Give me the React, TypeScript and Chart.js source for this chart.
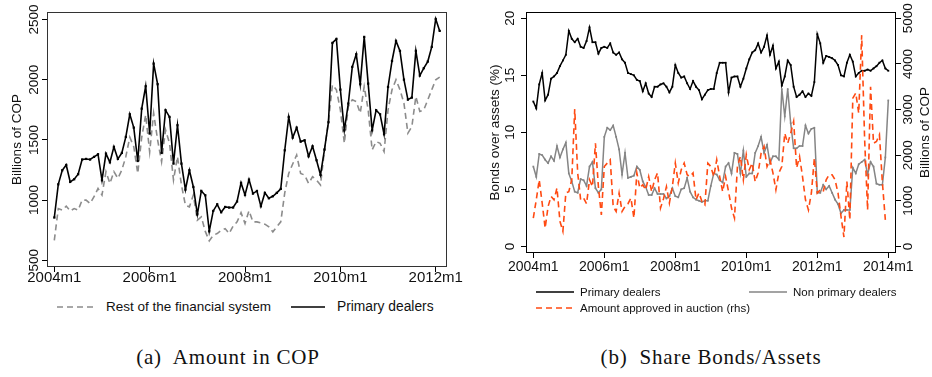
import React, { useEffect, useRef } from 'react';
import { Chart, registerables } from 'chart.js';

Chart.register(...registerables);

// ---------- Panel (a): Amount in COP, monthly 2004m1..2012m2 ----------
const LEFT_PRIMARY = [
  855, 1131, 1248, 1292, 1151, 1173, 1215, 1337, 1342, 1337,
  1359, 1381, 1165, 1386, 1314, 1442, 1342, 1392, 1525, 1713,
  1602, 1325, 1760, 1946, 1553, 2134, 1963, 1392, 1747, 1691,
  1303, 1622, 1303, 1087, 1248, 1109, 882, 1076, 1040, 741,
  910, 965, 899, 943, 938, 938, 988, 1143, 1043, 1170,
  1054, 1076, 949, 1060, 1015, 1032, 1060, 1093, 1414, 1691,
  1519, 1602, 1486, 1497, 1364, 1447, 1331, 1209, 1420, 1647,
  2306, 2339, 1918, 1580, 1802, 2107, 2212, 1963, 2356, 1968,
  1580, 1747, 1713, 1547, 1940, 2156, 2323, 2240, 2001, 1835,
  1852, 2240, 2035, 2096, 2151, 2273, 2505, 2406,
];
const LEFT_REST = [
  666, 930, 917, 950, 910, 930, 917, 1000, 1000, 972,
  1028, 1097, 1042, 1236, 1139, 1236, 1181, 1250, 1361, 1522,
  1444, 1222, 1522, 1708, 1400, 1722, 1500, 1319, 1583, 1472,
  1167, 1361, 1125, 958, 944, 1042, 833, 861, 740, 661,
  708, 722, 749, 763, 722, 783, 819, 895, 806, 911,
  819, 819, 811, 800, 778, 736, 778, 819, 1060, 1222,
  1300, 1375, 1222, 1208, 1139, 1194, 1167, 1125, 1417, 1653,
  1958, 1917, 1750, 1472, 1778, 1833, 1819, 1722, 1944, 1750,
  1417, 1486, 1472, 1403, 1750, 1917, 2000, 1917, 1806, 1556,
  1611, 1861, 1736, 1750, 1833, 1917, 2000, 2022,
];
const LEFT_X_TICKS = [0, 24, 48, 72, 96];
const LEFT_X_LABELS = ['2004m1', '2006m1', '2008m1', '2010m1', '2012m1'];
const LEFT_Y_TICKS = [500, 1000, 1500, 2000, 2500];

// ---------- Panel (b): Share Bonds/Assets, monthly 2004m1..2014m1 ----------
const RIGHT_PRIMARY = [
  12.7, 12.1, 14.2, 15.2, 12.8, 13.3, 14.7, 14.9, 15.2, 15.8,
  16.3, 16.8, 18.9, 18.2, 17.9, 18.2, 17.5, 17.4, 18.0, 19.2,
  17.9, 17.9, 16.9, 17.4, 17.5, 17.4, 17.8, 17.0, 16.8, 17.0,
  16.4, 16.1, 15.2, 15.1, 15.0, 14.6, 14.5, 13.6, 14.3, 13.4,
  13.1, 14.0, 14.0, 14.2, 14.3, 14.0, 13.5, 14.0, 15.9, 15.2,
  14.8, 14.9, 14.3, 13.8, 14.5, 14.0, 13.7, 12.9, 13.3, 13.7,
  13.8, 13.8, 15.2, 16.1, 16.1, 16.1, 13.5, 14.8, 14.9, 14.9,
  14.0, 14.7, 15.6, 16.4, 17.0, 17.2, 17.8, 17.0, 17.5, 18.5,
  16.8, 17.6, 15.6, 16.2, 14.1, 14.9, 16.3, 15.9, 14.0, 13.1,
  13.3, 13.6, 13.1, 13.4, 13.2, 14.4, 18.6, 17.8, 16.1, 16.7,
  16.6, 16.5, 16.3, 15.9, 15.0, 14.9, 16.1, 16.8, 16.2, 14.9,
  15.2, 15.4, 15.4, 15.5, 15.4, 15.6, 15.8, 16.1, 16.3, 15.6,
  15.4,
];
const RIGHT_NONPRIMARY = [
  7.0, 6.1, 8.1, 8.0, 7.6, 7.3, 7.9, 7.5, 8.8, 7.8,
  8.5, 9.1, 6.4, 5.7, 4.8, 4.7, 5.9, 5.8, 5.3, 7.0,
  7.4, 5.1, 4.7, 5.0, 9.6, 10.4, 10.2, 10.6, 9.6, 8.5,
  6.3, 8.2, 6.0, 6.1, 6.2, 7.0, 6.7, 5.7, 5.2, 4.5,
  4.5, 5.1, 4.6, 4.6, 4.6, 4.2, 4.4, 5.1, 4.4, 4.3,
  5.0, 5.1, 6.0, 4.8, 4.3, 4.1, 4.0, 3.9, 4.0, 4.0,
  5.3, 6.4, 6.3, 5.8, 5.6, 7.0, 7.3, 6.4, 8.2, 8.1,
  6.4, 8.4, 6.1, 6.4, 6.4, 8.2, 8.8, 9.6, 8.2, 8.9,
  7.3, 7.9, 7.9, 7.6, 13.8, 11.4, 13.8, 10.8, 8.6, 8.6,
  8.8, 8.8, 10.6, 9.9, 10.3, 10.4, 4.7, 4.7, 5.4, 5.0,
  5.3, 4.7, 4.1, 3.7, 2.9, 3.2, 3.2, 3.2, 6.9, 6.4,
  7.2, 7.4, 7.6, 6.3, 7.4, 7.0, 5.5, 5.4, 5.4, 7.8,
  12.8,
];
const RIGHT_AUCTION = [
  620, 1020, 1460, 950, 400, 875, 1095, 1020, 1280, 550,
  330, 1170, 1200, 1460, 3010, 1610, 1020, 1060, 935, 1460,
  1310, 2260, 1310, 690, 1750, 1825, 1900, 875, 765, 1170,
  765, 875, 935, 1060, 620, 1610, 1280, 1350, 1240, 1530,
  1200, 1460, 1610, 840, 1040, 1310, 950, 1310, 1825, 1390,
  1680, 1825, 1570, 1530, 1610, 1020, 1170, 985, 910, 1825,
  1750, 1530, 1900, 1530, 1200, 1530, 1200, 840, 620, 1750,
  1970, 1460, 2010, 1680, 1825, 1420, 1610, 2040, 2190, 1750,
  1900, 1610, 1240, 1610, 1750, 2480, 2260, 2480, 2740, 1720,
  1970, 1530, 1020, 800, 1170, 1935, 1170, 1240, 1200, 1460,
  1570, 1570, 1460, 1170, 660, 205, 1420, 580, 3250, 3360,
  2920, 4630, 2340, 800, 3500, 2260, 2300, 2450, 1400, 580,
];
const RIGHT_X_TICKS = [0, 24, 48, 72, 96, 120];
const RIGHT_X_LABELS = ['2004m1', '2006m1', '2008m1', '2010m1', '2012m1', '2014m1'];
const RIGHT_Y_TICKS = [0, 5, 10, 15, 20];
const RIGHT_Y2_TICKS = [0, 1000, 2000, 3000, 4000, 5000];

const SANS = '"Liberation Sans", Arial, Helvetica, sans-serif';

const toXY = (arr: number[]) => arr.map((v, i) => ({ x: i, y: v }));

function tickScale(ticks: number[], extra: any) {
  return {
    type: 'linear',
    afterBuildTicks: (s: any) => {
      s.ticks = ticks.map((v) => ({ value: v }));
    },
    ticks: { display: false },
    border: { display: false },
    grid: { drawOnChartArea: false, drawTicks: true, tickLength: 5, color: '#000', lineWidth: 1 },
    ...extra,
  };
}

function labelPlugin(cfg: any) {
  return {
    id: 'custom_labels',
    afterDraw(chart: any) {
      const ctx = chart.ctx;
      const a = chart.chartArea;
      ctx.save();
      ctx.strokeStyle = cfg.boxColor;
      ctx.lineWidth = 1;
      ctx.strokeRect(a.left + 0.5, a.top + 0.5, a.right - a.left - 1, a.bottom - a.top - 1);
      ctx.fillStyle = '#111';
      ctx.textAlign = 'center';
      ctx.textBaseline = 'middle';
      ctx.font = `${cfg.xFont}px ${SANS}`;
      const xs = chart.scales.x;
      cfg.xTicks.forEach((v: number, i: number) => {
        ctx.fillText(cfg.xLabels[i], xs.getPixelForValue(v), cfg.xLabelY);
      });
      cfg.yAxes.forEach((ax: any) => {
        const s = chart.scales[ax.id];
        ctx.font = `${ax.font}px ${SANS}`;
        ax.ticks.forEach((v: number) => {
          ctx.save();
          ctx.translate(ax.x, s.getPixelForValue(v));
          ctx.rotate(-Math.PI / 2);
          ctx.fillText(String(v), 0, 0);
          ctx.restore();
        });
      });
      cfg.titles.forEach((t: any) => {
        ctx.save();
        ctx.font = `${t.font}px ${SANS}`;
        ctx.translate(t.x, (a.top + a.bottom) / 2);
        ctx.rotate(-Math.PI / 2);
        ctx.fillText(t.text, 0, 0);
        ctx.restore();
      });
      ctx.restore();
    },
  };
}

function LeftChart() {
  const ref = useRef<HTMLCanvasElement>(null);
  useEffect(() => {
    const chart = new Chart(ref.current as HTMLCanvasElement, {
      type: 'line',
      data: {
        datasets: [
          {
            label: 'Primary dealers',
            data: toXY(LEFT_PRIMARY),
            borderColor: '#000',
            backgroundColor: '#000',
            borderWidth: 1.6,
            pointRadius: 1.6,
            pointStyle: 'rect',
            pointBorderWidth: 0,
            pointBackgroundColor: '#000',
            tension: 0,
          },
          {
            label: 'Rest of the financial system',
            data: toXY(LEFT_REST),
            borderColor: '#8c8c8c',
            borderWidth: 1.6,
            borderDash: [6, 4],
            pointRadius: 0,
            tension: 0,
          },
        ],
      },
      options: {
        responsive: false,
        animation: false,
        events: [],
        layout: { padding: { left: 0, top: 12, right: 19, bottom: 0 } },
        plugins: { legend: { display: false }, tooltip: { enabled: false } },
        scales: {
          x: tickScale(LEFT_X_TICKS, {
            min: -1.84,
            max: 98.84,
            afterFit: (s: any) => { s.height = 23; },
          }),
          y: tickScale(LEFT_Y_TICKS, {
            min: 444,
            max: 2563,
            afterFit: (s: any) => { s.width = 47; },
          }),
        },
      } as any,
      plugins: [
        labelPlugin({
          boxColor: '#333',
          xFont: 15,
          xTicks: LEFT_X_TICKS,
          xLabels: LEFT_X_LABELS,
          xLabelY: 278,
          yAxes: [{ id: 'y', ticks: LEFT_Y_TICKS, x: 34, font: 13.5 }],
          titles: [{ text: 'Billions of COP', x: 17, font: 13.5 }],
        }),
      ],
    } as any);
    return () => chart.destroy();
  }, []);
  return (
    <canvas
      ref={ref}
      width={466}
      height={290}
      style={{ position: 'absolute', left: 0, top: 0, width: 466, height: 290 }}
    />
  );
}

function RightChart() {
  const ref = useRef<HTMLCanvasElement>(null);
  useEffect(() => {
    const chart = new Chart(ref.current as HTMLCanvasElement, {
      type: 'line',
      data: {
        datasets: [
          {
            label: 'Amount approved in auction (rhs)',
            data: toXY(RIGHT_AUCTION),
            yAxisID: 'y2',
            borderColor: '#ff4a12',
            borderWidth: 1.6,
            borderDash: [6, 4],
            pointRadius: 0,
            tension: 0,
          },
          {
            label: 'Non primary dealers',
            data: toXY(RIGHT_NONPRIMARY),
            yAxisID: 'y',
            borderColor: '#858585',
            borderWidth: 1.5,
            pointRadius: 1.2,
            pointStyle: 'rect',
            pointBorderWidth: 0,
            pointBackgroundColor: '#858585',
            tension: 0,
          },
          {
            label: 'Primary dealers',
            data: toXY(RIGHT_PRIMARY),
            yAxisID: 'y',
            borderColor: '#000',
            borderWidth: 1.5,
            pointRadius: 1.3,
            pointStyle: 'rect',
            pointBorderWidth: 0,
            pointBackgroundColor: '#000',
            tension: 0,
          },
        ],
      },
      options: {
        responsive: false,
        animation: false,
        events: [],
        layout: { padding: { left: 0, top: 12, right: 0, bottom: 0 } },
        plugins: { legend: { display: false }, tooltip: { enabled: false } },
        scales: {
          x: tickScale(RIGHT_X_TICKS, {
            min: -2.47,
            max: 122.6,
            afterFit: (s: any) => { s.height = 37; },
          }),
          y: tickScale(RIGHT_Y_TICKS, {
            position: 'left',
            min: -0.58,
            max: 20.55,
            afterFit: (s: any) => { s.width = 60; },
          }),
          y2: tickScale(RIGHT_Y2_TICKS, {
            position: 'right',
            min: -145,
            max: 5137.5,
            afterFit: (s: any) => { s.width = 36; },
          }),
        },
      } as any,
      plugins: [
        labelPlugin({
          boxColor: '#000',
          xFont: 14,
          xTicks: RIGHT_X_TICKS,
          xLabels: RIGHT_X_LABELS,
          xLabelY: 267,
          yAxes: [
            { id: 'y', ticks: RIGHT_Y_TICKS, x: 44, font: 13.5 },
            { id: 'y2', ticks: RIGHT_Y2_TICKS, x: 442, font: 13.5 },
          ],
          titles: [
            { text: 'Bonds over assets (%)', x: 29, font: 13.5 },
            { text: 'Billions of COP', x: 459, font: 13.5 },
          ],
        }),
      ],
    } as any);
    return () => chart.destroy();
  }, []);
  return (
    <canvas
      ref={ref}
      width={466}
      height={290}
      style={{ position: 'absolute', left: 466, top: 0, width: 466, height: 290 }}
    />
  );
}

function LegendItem(props: {
  x1: number; x2: number; y: number; color: string; dash?: string; lw: number;
  tx: number; text: string; fs: number;
}) {
  const { x1, x2, y, color, dash, lw, tx, text, fs } = props;
  const h = Math.ceil(fs * 1.3);
  return (
    <>
      <svg
        width={x2 - x1 + 2}
        height={6}
        style={{ position: 'absolute', left: x1 - 1, top: y - 3, overflow: 'visible' }}
      >
        <line x1={1} y1={3} x2={x2 - x1 + 1} y2={3} stroke={color} strokeWidth={lw} strokeDasharray={dash} />
      </svg>
      <div
        style={{
          position: 'absolute', left: tx, top: y - h / 2, height: h, lineHeight: `${h}px`,
          fontFamily: SANS, fontSize: fs, color: '#111', whiteSpace: 'nowrap',
        }}
      >
        {text}
      </div>
    </>
  );
}

export default function App() {
  useEffect(() => {
    document.body.style.margin = '0';
  }, []);
  const capStyle: React.CSSProperties = {
    position: 'absolute', top: 343, height: 28, lineHeight: '28px', textAlign: 'center',
    fontFamily: '"Liberation Serif", "Times New Roman", serif', fontSize: 21, color: '#111',
    whiteSpace: 'pre', letterSpacing: 0.8,
  };
  return (
    <div style={{ position: 'absolute', left: 0, top: 0, width: 932, height: 377, background: '#fff', overflow: 'hidden' }}>
      <LeftChart />
      <RightChart />
      <LegendItem x1={57} x2={95} y={307} color="#8c8c8c" dash="6 4" lw={1.6} tx={106} text="Rest of the financial system" fs={13.5} />
      <LegendItem x1={291} x2={325} y={307} color="#000" lw={1.6} tx={337} text="Primary dealers" fs={13.8} />
      <LegendItem x1={536} x2={574} y={292} color="#000" lw={1.5} tx={580} text="Primary dealers" fs={11.5} />
      <LegendItem x1={749} x2={787} y={292} color="#858585" lw={1.5} tx={793} text="Non primary dealers" fs={11.5} />
      <LegendItem x1={536} x2={574} y={308} color="#ff4a12" dash="6 4" lw={1.6} tx={580} text="Amount approved in auction (rhs)" fs={11.5} />
      <div style={{ ...capStyle, left: 108, width: 240 }}>{'(a)  Amount in COP'}</div>
      <div style={{ ...capStyle, left: 571, width: 280 }}>{'(b)  Share Bonds/Assets'}</div>
    </div>
  );
}
